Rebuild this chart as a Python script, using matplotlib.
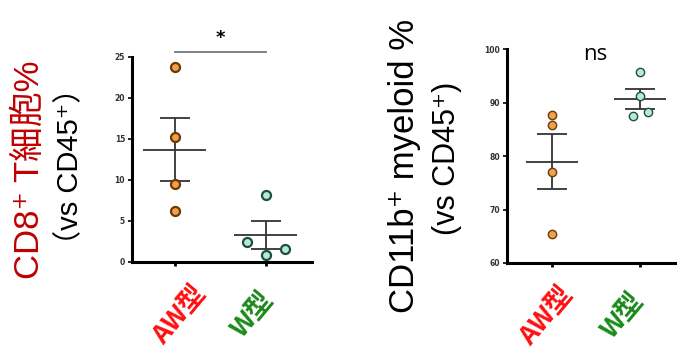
import matplotlib
matplotlib.use("Agg")
import matplotlib.pyplot as plt
import numpy as np

# values
groups = ["AW型", "W型"]
group_colors = ["#ff1010", "#1a8a1a"]

cd8_aw = [23.8, 15.2, 9.5, 6.2]
cd8_w = [8.2, 2.4, 0.9, 1.6]
cd8_w_jitter = [0.0, -0.21, 0.0, 0.21]

cd11b_aw = [87.6, 85.8, 77.0, 65.5]
cd11b_w = [95.7, 91.3, 87.5, 88.2]
cd11b_w_jitter = [0.0, 0.0, -0.08, 0.09]

cd8_yticks = [0, 5, 10, 15, 20, 25]
cd11b_yticks = [60, 70, 80, 90, 100]

cjk = ["Noto Sans CJK JP", "DejaVu Sans"]
sans = ["Liberation Sans", "Noto Sans CJK JP", "DejaVu Sans"]

fill = ["#f0a04a", "#b4ead8"]
edge = ["#6a3a08", "#1f4f42"]


def mean_sem(v):
    v = np.asarray(v, dtype=float)
    return v.mean(), v.std(ddof=1) / np.sqrt(len(v))


def draw_panel(ax, data, jitters, ylim, yticks, half_mean, half_cap, ms, mew):
    for i, (vals, jit) in enumerate(zip(data, jitters)):
        xs = i + np.asarray(jit)
        ax.plot(xs, vals, "o", ms=ms, mfc=fill[i], mec=edge[i], mew=mew,
                zorder=3, clip_on=False)
        m, s = mean_sem(vals)
        ax.hlines(m, i - half_mean, i + half_mean, color="#333333", lw=1.3, zorder=2)
        ax.hlines([m - s, m + s], i - half_cap, i + half_cap, color="#333333", lw=1.3, zorder=2)
        ax.vlines(i, m - s, m + s, color="#333333", lw=1.3, zorder=2)
    ax.set_ylim(*ylim)
    ax.set_yticks(yticks)
    ax.set_xticks([0, 1])
    ax.set_xticklabels([])
    for sp in ["top", "right"]:
        ax.spines[sp].set_visible(False)
    for sp in ["left", "bottom"]:
        ax.spines[sp].set_linewidth(2.2)
    ax.tick_params(axis="y", length=3, width=1.2, labelsize=5.5, pad=2,
                   labelcolor="#333333")
    ax.tick_params(axis="x", length=3, width=2)
    for t in ax.get_yticklabels():
        t.set_fontweight("bold")


fig = plt.figure(figsize=(6.77, 3.53), dpi=100)

# left panel
ax1 = fig.add_axes([0.195, 0.258, 0.266, 0.581])
draw_panel(ax1, [cd8_aw, cd8_w], [[0] * 4, cd8_w_jitter], (0, 25), cd8_yticks,
           0.345, 0.165, 6.5, 1.6)
ax1.set_xlim(-0.47, 1.51)
ax1.plot([0, 1], [25.6, 25.6], color="#777777", lw=1.3, clip_on=False)
ax1.text(0.5, 26.2, "*", ha="center", va="bottom", fontsize=13,
         fontweight="bold", clip_on=False)

fig.text(0.044, 0.52, "CD8⁺ T細胞%", rotation=90, ha="center", va="center",
         fontsize=25, color="#c00000", family=sans)
fig.text(0.104, 0.53, "（vs CD45⁺）", rotation=90, ha="center", va="center",
         fontsize=21, color="black", family=sans)

# right panel
ax2 = fig.add_axes([0.749, 0.255, 0.251, 0.606])
draw_panel(ax2, [cd11b_aw, cd11b_w], [[0] * 4, cd11b_w_jitter], (60, 100),
           cd11b_yticks, 0.3, 0.17, 6.0, 1.0)
ax2.set_xlim(-0.51, 1.42)
ax2.text(0.49, 99.0, "ns", ha="center", va="center", fontsize=16,
         family="Open Sans", clip_on=False)

fig.text(0.598, 0.53, "CD11b⁺ myeloid %", rotation=90, ha="center",
         va="center", fontsize=25, color="black", family=sans)
fig.text(0.660, 0.55, "(vs CD45⁺)", rotation=90, ha="center", va="center",
         fontsize=22, color="black", family=sans)

# rotated group labels under each panel
for ax, offs in [(ax1, [0.05, -0.14]), (ax2, [-0.06, -0.2])]:
    for i, (g, c) in enumerate(zip(groups, group_colors)):
        ax.annotate(g, xy=(i + offs[i], 0), xycoords=("data", "axes fraction"),
                    xytext=(0, -38), textcoords="offset points",
                    ha="center", va="center", rotation=50, fontsize=19,
                    fontweight="bold", fontstyle="italic", color=c,
                    family=cjk, annotation_clip=False)

fig.savefig("out.png", dpi=100)
